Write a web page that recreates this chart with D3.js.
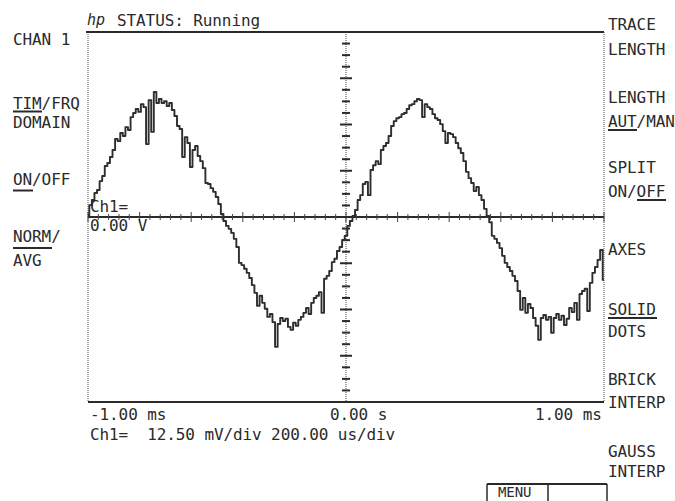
<!DOCTYPE html>
<html>
<head>
<meta charset="utf-8">
<script src="https://cdn.jsdelivr.net/npm/d3@7"></script>
<style>
  html, body { margin: 0; padding: 0; background: #fff; }
  svg { display: block; }
  text { font-family: "DejaVu Sans Mono", "Liberation Mono", monospace; font-size: 16px; fill: #2a2a2a; letter-spacing: -0.1px; white-space: pre; }
</style>
</head>
<body>
<div id="chart"></div>
<script>
// ---- data ----
const timeUs = d3.range(-1000, 1001, 10);          // sample times, microseconds
const ch1mV = [
  0.5, 3.2, 4.6, 6.5, 7.3, 9.7, 11.1, 13.8, 14.6, 16.2,
  18.1, 21.1, 20.5, 22.7, 21.9, 24.3, 23.5, 27.0, 28.1, 29.2,
  28.4, 30.5, 29.7, 19.7, 31.6, 23.0, 33.8, 30.8, 31.9, 30.8,
  31.3, 30.0, 30.8, 28.9, 27.3, 24.6, 23.8, 16.2, 21.6, 20.0,
  13.5, 18.1, 19.2, 16.5, 15.1, 13.2, 9.2, 8.9, 7.8, 6.8,
  5.4, 3.5, 0.8, -1.1, -2.4, -3.2, -4.3, -5.9, -8.1, -12.4,
  -13.0, -14.0, -15.1, -16.5, -18.4, -20.5, -24.0, -21.3, -23.2, -24.8,
  -27.0, -26.2, -28.4, -35.1, -28.9, -27.3, -28.1, -27.5, -29.7, -30.5,
  -28.6, -29.4, -27.8, -27.0, -25.9, -24.6, -26.2, -23.2, -21.9, -21.3,
  -20.3, -25.9, -16.7, -15.9, -14.6, -12.2, -11.3, -9.2, -8.1, -6.2,
  -5.1, -2.4, -1.1, 0.3, 1.9, 4.6, 5.9, 8.9, 9.5, 5.9,
  12.7, 14.0, 15.1, 14.3, 18.1, 19.2, 20.0, 21.9, 24.6, 25.9,
  26.7, 27.0, 27.8, 28.1, 29.2, 30.2, 30.5, 31.3, 31.9, 31.6,
  27.0, 30.5, 29.7, 29.2, 27.8, 26.7, 26.2, 25.1, 23.2, 20.0,
  22.7, 22.4, 21.6, 20.0, 18.6, 17.3, 15.1, 12.2, 10.5, 9.2,
  7.0, 8.1, 5.9, 4.6, 2.2, 0.3, -1.4, -5.1, -5.9, -7.0,
  -8.4, -10.5, -12.4, -13.5, -14.6, -15.9, -17.3, -20.0, -25.1, -21.9,
  -25.9, -23.5, -24.6, -27.3, -29.4, -33.2, -27.3, -26.5, -27.8, -27.0,
  -31.3, -27.3, -26.2, -27.8, -26.7, -29.2, -27.5, -24.6, -25.7, -23.2,
  -27.8, -20.8, -20.0, -19.4, -25.4, -17.8, -15.1, -13.5, -11.6, -8.9,
  -17.0
];
const timeTickLabels = ["-1.00 ms", "0.00 s", "1.00 ms"];
const statusText = "STATUS: Running";
const scaleText = "Ch1=  12.50 mV/div 200.00 us/div";
const refText = ["Ch1=", "0.00 V"];
const leftKeys = ["CHAN 1", "TIM/FRQ", "DOMAIN", "ON/OFF", "NORM/", "AVG"];
const rightKeys = ["TRACE", "LENGTH", "LENGTH", "AUT/MAN", "SPLIT", "ON/OFF",
                   "AXES", "SOLID", "DOTS", "BRICK", "INTERP", "GAUSS", "INTERP"];
const menuText = "MENU";

// ---- layout ----
const W = 675, H = 501;
const L = 88, R = 604, T = 32, B = 402;
const svg = d3.select("#chart").append("svg").attr("width", W).attr("height", H);

const x = d3.scaleLinear().domain([-1000, 1000]).range([L, R]);
const y = d3.scaleLinear().domain([-50, 50]).range([B, T]);
const ink = "#2a2a2a";

// frame: dotted sides, heavy top/bottom
svg.append("line").attr("x1", L).attr("x2", L).attr("y1", T).attr("y2", B)
  .attr("stroke", "#555").attr("stroke-width", 1).attr("stroke-dasharray", "1,1");
svg.append("line").attr("x1", R).attr("x2", R).attr("y1", T).attr("y2", B)
  .attr("stroke", "#555").attr("stroke-width", 1).attr("stroke-dasharray", "1,1");
svg.append("line").attr("x1", L - 2).attr("x2", R).attr("y1", T).attr("y2", T)
  .attr("stroke", ink).attr("stroke-width", 2);
svg.append("line").attr("x1", L).attr("x2", R).attr("y1", B).attr("y2", B)
  .attr("stroke", ink).attr("stroke-width", 2);

// horizontal (time) axis through zero
svg.append("line").attr("x1", L).attr("x2", R).attr("y1", y(0)).attr("y2", y(0))
  .attr("stroke", ink).attr("stroke-width", 2);
const hTicks = d3.range(-1000, 1001, 40);
svg.append("g").selectAll("line").data(hTicks).join("line")
  .attr("x1", d => x(d)).attr("x2", d => x(d))
  .attr("y1", d => y(0) - (d % 200 === 0 ? 5 : 3))
  .attr("y2", d => y(0) + (d % 200 === 0 ? 5 : 3))
  .attr("stroke", "#444").attr("stroke-width", 1);

// vertical (voltage) axis through zero time
svg.append("line").attr("x1", x(0)).attr("x2", x(0)).attr("y1", T).attr("y2", B)
  .attr("stroke", "#444").attr("stroke-width", 1).attr("stroke-dasharray", "1,1");
const vTicks = d3.range(-50, 50.01, 3.125);
svg.append("g").selectAll("line").data(vTicks).join("line")
  .attr("x1", d => x(0) - (Math.abs(d % 12.5) < 0.01 ? 6 : 4))
  .attr("x2", d => x(0) + (Math.abs(d % 12.5) < 0.01 ? 6 : 4))
  .attr("y1", d => y(d)).attr("y2", d => y(d))
  .attr("stroke", ink).attr("stroke-width", 2);

// trace
const line = d3.line().x((d, i) => x(timeUs[i])).y(d => y(d)).curve(d3.curveStep);
svg.append("path").datum(ch1mV).attr("d", line)
  .attr("fill", "none").attr("stroke", "#2e2e2e").attr("stroke-width", 1.9)
  .attr("stroke-linejoin", "round");

// header
svg.append("text").attr("x", 87).attr("y", 25).style("font-style", "italic")
  .style("font-size", "15px").text("hp");
svg.append("text").attr("x", 117).attr("y", 26).text(statusText);

// in-plot reference label
svg.append("text").attr("x", 90).attr("y", 212).text(refText[0]);
svg.append("text").attr("x", 90).attr("y", 231).text(refText[1]);

// bottom labels
const tickLabelX = [90, 330, 535];
svg.append("g").selectAll("text").data(timeTickLabels).join("text")
  .attr("x", (d, i) => tickLabelX[i]).attr("y", 420).text(d => d);
svg.append("text").attr("x", 90).attr("y", 440).attr("xml:space", "preserve").text(scaleText);

// softkey labels
const leftY = [45, 109, 128, 185, 242, 266];
svg.append("g").selectAll("text").data(leftKeys).join("text")
  .attr("x", 13).attr("y", (d, i) => leftY[i]).text(d => d);
const rightY = [30, 55, 103, 127, 173, 197, 255, 315, 337, 385, 408, 457, 477];
svg.append("g").selectAll("text").data(rightKeys).join("text")
  .attr("x", 608).attr("y", (d, i) => rightY[i]).text(d => d);

// underlines marking selected options
const underlines = [
  [13, 42, 111.5], [13, 33, 190.5], [13, 52, 248],
  [608, 637, 130], [637, 666, 200], [608, 657, 318]
];
svg.append("g").selectAll("line").data(underlines).join("line")
  .attr("x1", d => d[0]).attr("x2", d => d[1]).attr("y1", d => d[2]).attr("y2", d => d[2])
  .attr("stroke", ink).attr("stroke-width", 2);

// menu box
svg.append("line").attr("x1", 487).attr("x2", 607).attr("y1", 484).attr("y2", 484)
  .attr("stroke", ink).attr("stroke-width", 2);
[487, 548, 607].forEach(px => svg.append("line").attr("x1", px).attr("x2", px)
  .attr("y1", 484).attr("y2", 501).attr("stroke", ink).attr("stroke-width", 1.5));
svg.append("text").attr("x", 498).attr("y", 497).style("font-size", "14px").text(menuText);
</script>
</body>
</html>
